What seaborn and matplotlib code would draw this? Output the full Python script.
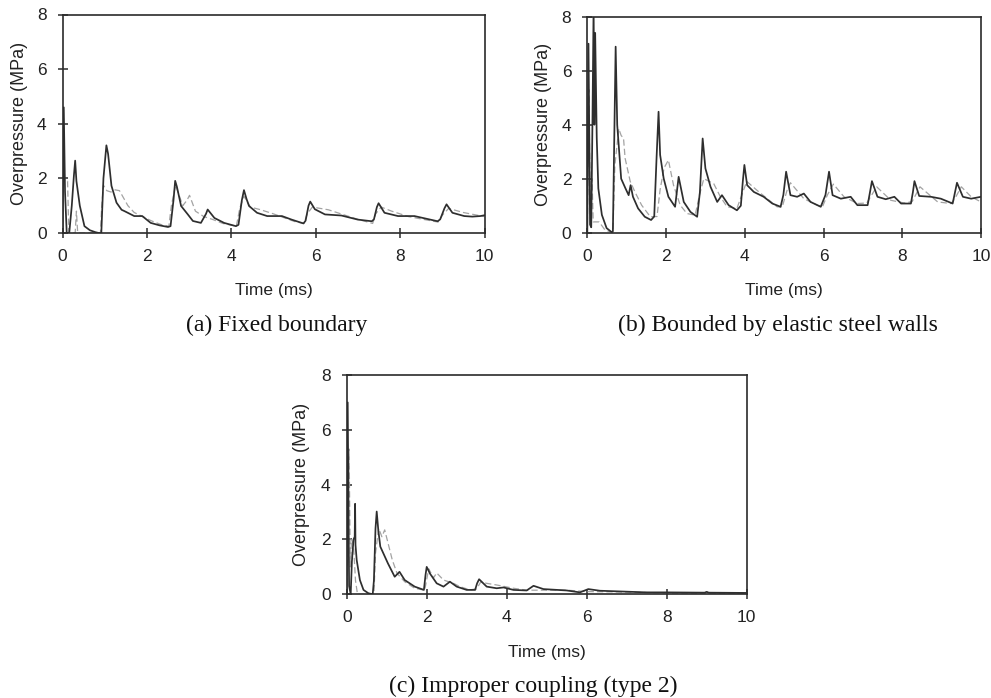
import matplotlib
matplotlib.use("Agg")
import matplotlib.pyplot as plt
import pandas as pd
import seaborn as sns

# ---- (a) Fixed boundary ----
a_solid_t = [0.00, 0.03, 0.06, 0.10, 0.16, 0.22, 0.27, 0.30, 0.33, 0.41, 0.52, 0.65, 0.78, 0.86,
             0.92, 0.97, 1.04, 1.08, 1.16, 1.28, 1.40, 1.47, 1.70, 1.89, 2.09, 2.30, 2.50, 2.56,
             2.63, 2.67, 2.71, 2.81, 2.97, 3.09, 3.28, 3.40, 3.44, 3.60, 3.83, 4.11, 4.17, 4.25,
             4.30, 4.36, 4.42, 4.61, 4.85, 5.00, 5.20, 5.43, 5.71, 5.76, 5.83, 5.87, 5.98, 6.22,
             6.61, 7.00, 7.33, 7.38, 7.45, 7.49, 7.63, 7.95, 8.34, 8.89, 8.95, 9.05, 9.10, 9.24,
             9.52, 9.71, 9.90, 10.00]
a_solid_p = [0.00, 4.60, 1.50, 0.00, 0.00, 1.00, 2.10, 2.65, 1.90, 1.00, 0.25, 0.10, 0.03, 0.00,
             0.00, 2.00, 3.21, 2.90, 1.73, 1.11, 0.85, 0.80, 0.62, 0.62, 0.37, 0.28, 0.22, 0.25,
             1.20, 1.91, 1.70, 0.99, 0.68, 0.44, 0.37, 0.70, 0.86, 0.55, 0.37, 0.25, 0.30, 1.20,
             1.57, 1.25, 0.99, 0.74, 0.62, 0.62, 0.62, 0.49, 0.35, 0.45, 1.00, 1.15, 0.87, 0.68,
             0.64, 0.49, 0.43, 0.50, 0.95, 1.09, 0.74, 0.62, 0.62, 0.43, 0.50, 0.90, 1.05, 0.74,
             0.62, 0.60, 0.62, 0.65]
a_dash_t = [0.00, 0.02, 0.05, 0.12, 0.15, 0.30, 0.33, 0.36, 0.90, 0.93, 0.97, 1.05, 1.15, 1.25,
            1.35, 1.55, 1.70, 1.90, 2.10, 2.35, 2.52, 2.58, 2.68, 2.85, 2.95, 3.01, 3.15, 3.35,
            3.55, 3.80, 4.12, 4.20, 4.30, 4.45, 4.70, 5.00, 5.50, 5.72, 5.80, 5.92, 6.30, 7.00,
            7.35, 7.42, 7.55, 7.80, 8.20, 8.90, 9.00, 9.15, 9.50, 10.00]
a_dash_p = [0.00, 4.50, 1.90, 1.90, 0.00, 0.00, 0.80, 0.00, 0.00, 1.00, 1.75, 1.55, 1.50, 1.58,
            1.55, 1.00, 0.75, 0.60, 0.45, 0.30, 0.25, 1.00, 1.75, 1.00, 1.20, 1.38, 0.80, 0.60,
            0.50, 0.35, 0.25, 0.90, 1.35, 0.95, 0.85, 0.70, 0.42, 0.35, 0.70, 0.95, 0.85, 0.50,
            0.35, 0.70, 0.95, 0.80, 0.60, 0.40, 0.65, 0.90, 0.75, 0.60]

# ---- (b) Bounded by elastic steel walls ----
b_solid_t = [0.00, 0.03, 0.07, 0.10, 0.13, 0.16, 0.18, 0.20, 0.24, 0.28, 0.37, 0.49, 0.62, 0.65,
             0.68, 0.72, 0.76, 0.81, 0.86, 0.97, 1.05, 1.10, 1.16, 1.29, 1.46, 1.62, 1.70, 1.76,
             1.81, 1.85, 1.94, 2.06, 2.23, 2.32, 2.45, 2.62, 2.79, 2.86, 2.93, 3.00, 3.13, 3.30,
             3.42, 3.59, 3.80, 3.90, 3.95, 3.99, 4.06, 4.23, 4.48, 4.70, 4.91, 4.98, 5.05, 5.16,
             5.33, 5.50, 5.67, 5.93, 6.05, 6.14, 6.23, 6.44, 6.69, 6.86, 7.12, 7.18, 7.23, 7.37,
             7.58, 7.80, 7.97, 8.22, 8.27, 8.31, 8.43, 8.73, 8.98, 9.28, 9.34, 9.39, 9.54, 9.75,
             10.00]
b_solid_p = [0.00, 7.00, 0.30, 0.20, 4.00, 8.40, 4.00, 7.40, 3.50, 1.64, 0.66, 0.17, 0.02, 0.05,
             3.00, 6.89, 3.99, 3.00, 2.00, 1.64, 1.39, 1.76, 1.33, 0.90, 0.59, 0.47, 0.60, 2.80,
             4.48, 2.88, 2.01, 1.33, 0.96, 2.07, 1.14, 0.77, 0.59, 1.50, 3.49, 2.38, 1.70, 1.14,
             1.39, 1.02, 0.83, 1.00, 1.90, 2.51, 1.76, 1.51, 1.33, 1.08, 0.96, 1.40, 2.26, 1.39,
             1.33, 1.45, 1.14, 0.96, 1.40, 2.26, 1.39, 1.26, 1.33, 1.02, 1.02, 1.50, 1.91, 1.33,
             1.24, 1.33, 1.08, 1.08, 1.50, 1.91, 1.36, 1.33, 1.26, 1.08, 1.50, 1.85, 1.33, 1.26,
             1.33]
b_dash_t = [0.00, 0.04, 0.08, 0.12, 0.15, 0.30, 0.45, 0.65, 0.70, 0.80, 0.86, 0.92, 0.96, 1.09,
            1.21, 1.38, 1.60, 1.77, 1.85, 1.95, 2.06, 2.19, 2.36, 2.53, 2.74, 2.85, 2.96, 3.21,
            3.38, 3.55, 3.80, 3.95, 4.05, 4.31, 4.57, 4.82, 4.95, 5.08, 5.16, 5.50, 5.84, 5.97,
            6.10, 6.25, 6.52, 6.86, 7.10, 7.35, 7.71, 8.05, 8.25, 8.45, 8.90, 9.24, 9.35, 9.50,
            9.75, 10.00]
b_dash_p = [0.00, 5.30, 0.50, 2.00, 0.40, 0.40, 0.10, 0.00, 2.50, 3.85, 3.60, 3.50, 2.76, 1.90,
            1.51, 1.02, 0.59, 0.60, 1.60, 2.40, 2.69, 1.76, 1.02, 0.71, 0.65, 1.40, 2.00, 1.82,
            1.33, 0.96, 0.90, 1.50, 1.90, 1.57, 1.26, 0.96, 0.95, 1.60, 1.85, 1.26, 1.02, 0.95,
            1.40, 1.80, 1.33, 1.08, 1.10, 1.70, 1.20, 1.10, 1.15, 1.70, 1.14, 1.08, 1.30, 1.70,
            1.33, 1.14]

# ---- (c) Improper coupling (type 2) ----
c_solid_t = [0.00, 0.025, 0.06, 0.10, 0.13, 0.17, 0.20, 0.21, 0.22, 0.25, 0.33, 0.42, 0.54, 0.65,
             0.68, 0.72, 0.75, 0.79, 0.84, 1.03, 1.20, 1.32, 1.45, 1.70, 1.93, 1.97, 2.00, 2.08,
             2.25, 2.42, 2.58, 2.75, 3.00, 3.21, 3.26, 3.31, 3.50, 3.75, 3.92, 4.17, 4.50, 4.67,
             4.92, 5.50, 5.83, 6.04, 6.33, 6.92, 7.50, 8.00, 8.95, 9.00, 9.05, 10.00]
c_solid_p = [0.00, 7.00, 0.30, 0.00, 1.20, 2.00, 2.10, 3.30, 1.80, 1.25, 0.52, 0.16, 0.04, 0.00,
             0.50, 2.40, 3.02, 2.34, 1.74, 1.13, 0.64, 0.82, 0.52, 0.28, 0.16, 0.70, 1.00, 0.76,
             0.40, 0.28, 0.46, 0.28, 0.16, 0.16, 0.40, 0.55, 0.28, 0.22, 0.25, 0.16, 0.14, 0.31,
             0.19, 0.14, 0.07, 0.19, 0.13, 0.10, 0.07, 0.07, 0.06, 0.09, 0.06, 0.05]
c_dash_t = [0.00, 0.03, 0.06, 0.09, 0.12, 0.17, 0.22, 0.27, 0.68, 0.72, 0.80, 0.88, 0.95, 1.14,
            1.26, 1.45, 1.70, 1.95, 2.05, 2.17, 2.25, 2.42, 2.67, 2.83, 3.08, 3.25, 3.35, 3.50,
            3.75, 4.17, 4.50, 5.50, 6.00, 7.00, 8.00, 10.00]
c_dash_p = [0.00, 2.00, 5.30, 1.00, 2.00, 1.80, 0.50, 0.00, 0.00, 1.50, 2.40, 2.10, 2.35, 1.25,
            0.76, 0.46, 0.22, 0.15, 0.93, 0.60, 0.78, 0.52, 0.40, 0.28, 0.16, 0.20, 0.45, 0.40,
            0.34, 0.22, 0.15, 0.15, 0.10, 0.08, 0.05, 0.04]

x_ticks = [0, 2, 4, 6, 8, 10]
y_ticks = [0, 2, 4, 6, 8]
captions = ["(a) Fixed boundary", "(b) Bounded by elastic steel walls",
            "(c) Improper coupling (type 2)"]

sns.set_style("white")
plt.rcParams["font.family"] = ["Liberation Sans", "DejaVu Sans"]

fig = plt.figure(figsize=(9.91, 6.98), dpi=100)
W, H = 991.0, 698.0

# axes frames in pixel coordinates: left, right, top, bottom
frames = [(62.5, 484.5, 14.5, 233.0),
          (587.3, 981.0, 16.7, 232.7),
          (346.7, 746.7, 375.0, 594.3)]
ylabel_x = [20.0, 543.0, 302.0]
xlabel_y = [290.0, 290.0, 652.0]
caption_pos = [(277.0, 325.0), (778.0, 325.0), (533.0, 686.0)]

series = [(a_solid_t, a_solid_p, a_dash_t, a_dash_p),
          (b_solid_t, b_solid_p, b_dash_t, b_dash_p),
          (c_solid_t, c_solid_p, c_dash_t, c_dash_p)]

edge = "#2b2b2b"
for i, (l, r, t, b) in enumerate(frames):
    ax = fig.add_axes([l / W, 1 - b / H, (r - l) / W, (b - t) / H])
    st, sp, dt, dp = series[i]
    dash_df = pd.DataFrame({"Time": dt, "Pressure": dp})
    solid_df = pd.DataFrame({"Time": st, "Pressure": sp})
    sns.lineplot(data=dash_df, x="Time", y="Pressure", ax=ax, sort=False, estimator=None,
                 color="#a3a3a3", linewidth=0.9, linestyle=(0, (5, 2.5)))
    sns.lineplot(data=solid_df, x="Time", y="Pressure", ax=ax, sort=False, estimator=None,
                 color="#2e2e2e", linewidth=1.25)
    ax.set_xlim(0, 10)
    ax.set_ylim(0, 8)
    ax.set_xticks(x_ticks)
    ax.set_yticks(y_ticks)
    ax.tick_params(bottom=True, left=True, direction="inout", length=7, width=1.1,
                   color=edge, labelsize=12.5, pad=8, labelcolor="#222222")
    for s in ax.spines.values():
        s.set_visible(True)
        s.set_color(edge)
        s.set_linewidth(1.2)
    ax.set_xlabel("Time (ms)", fontsize=12.5, color="#222222", va="center")
    ax.set_ylabel("Overpressure (MPa)", fontsize=13, color="#222222", va="center")
    ax.xaxis.set_label_coords(0.5, (b - xlabel_y[i]) / (b - t))
    ax.yaxis.set_label_coords((ylabel_x[i] - l) / (r - l), 0.5)
    cx, cy = caption_pos[i]
    fig.text(cx / W, 1 - cy / H, captions[i], ha="center", va="center",
             fontsize=17, family=["Liberation Serif", "DejaVu Serif"], color="#111111")

fig.savefig("out.png", dpi=100, facecolor="white")
